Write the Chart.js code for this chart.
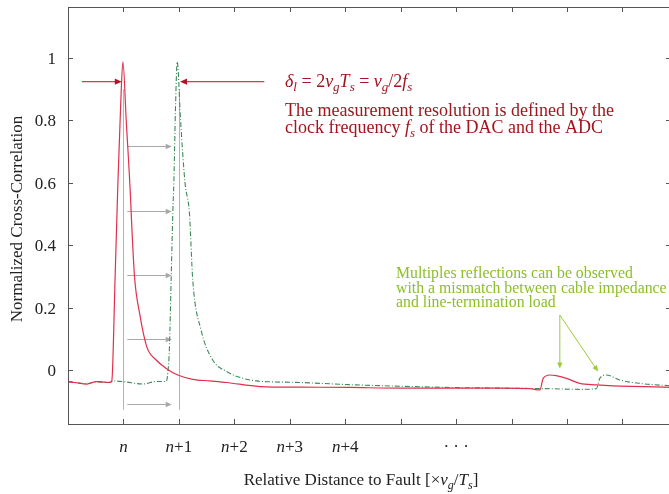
<!DOCTYPE html>
<html>
<head>
<meta charset="utf-8">
<script src="https://cdn.jsdelivr.net/npm/chart.js@4.4.1/dist/chart.umd.min.js"></script>
<style>
  html, body { margin: 0; padding: 0; background: #fff; overflow: hidden; }
  canvas { display: block; }
</style>
</head>
<body>
<canvas id="chart" width="673" height="494"></canvas>
<script>
// x in units of one resolution step (tick 1 = n, tick 2 = n+1 ...)
const redX = [0, 0.12, 0.34, 0.51, 0.66, 0.75, 0.79, 0.85, 0.90, 0.95, 0.99, 1.05, 1.13, 1.14, 1.20, 1.29, 1.42, 1.59, 1.77, 1.98, 2.25, 2.56, 2.86, 3.46, 4.18, 5.08, 5.98, 6.89, 7.79, 8.33, 8.51, 8.57, 8.69, 8.80, 8.99, 9.23, 9.53, 9.83, 10.43, 10.9];
const redY = [-0.038, -0.040, -0.045, -0.037, -0.039, -0.040, -0.035, 0.30, 0.60, 0.85, 0.988, 0.80, 0.545, 0.502, 0.299, 0.183, 0.075, 0.032, 0.005, -0.016, -0.030, -0.035, -0.040, -0.053, -0.055, -0.056, -0.058, -0.058, -0.058, -0.060, -0.064, -0.027, -0.016, -0.018, -0.027, -0.043, -0.048, -0.051, -0.053, -0.056];

const greenX = [0, 0.12, 0.34, 0.51, 0.75, 0.81, 1.02, 1.35, 1.59, 1.77, 1.80, 1.83, 1.86, 1.89, 1.91, 1.94, 1.97, 2.03, 2.11, 2.19, 2.25, 2.40, 2.61, 2.86, 3.16, 3.40, 4.18, 5.08, 5.98, 6.89, 7.79, 8.69, 9.23, 9.53, 9.59, 9.71, 9.95, 10.31, 10.9];
const greenY = [-0.036, -0.040, -0.044, -0.038, -0.040, -0.035, -0.038, -0.045, -0.037, -0.037, -0.010, 0.075, 0.288, 0.502, 0.609, 0.85, 0.988, 0.80, 0.60, 0.502, 0.288, 0.128, 0.032, -0.005, -0.027, -0.035, -0.040, -0.047, -0.052, -0.056, -0.058, -0.060, -0.062, -0.060, -0.027, -0.016, -0.032, -0.043, -0.051];

const yTicks = [0, 0.2, 0.4, 0.6, 0.8, 1];
const yTickLabels = ["0", "0.2", "0.4", "0.6", "0.8", "1"];
const xTicks = [0, 1, 2, 3, 4, 5, 6, 7, 8, 9, 10];
const xTickLabels = { 1: "n", 2: "n+1", 3: "n+2", 4: "n+3", 5: "n+4", 7: "\u00b7 \u00b7 \u00b7" };

// resolution arrows between n and n+1
const shiftArrowY = [0.718, 0.511, 0.305, 0.098, -0.109];

const SERIF = '"Liberation Serif", "DejaVu Serif", serif';
const RED_TEXT = "#a3141e";
const GREEN_TEXT = "#8cbf26";

function font(size, italic) {
  return (italic ? "italic " : "") + size + "px " + SERIF;
}

// parts: [text, kind]  kind r = roman, i = italic, s = italic subscript
function drawRich(ctx, x, y, parts, size, color, align) {
  const sub = Math.round(size * 0.7);
  ctx.save();
  ctx.fillStyle = color;
  ctx.textAlign = "left";
  ctx.textBaseline = "alphabetic";
  const widths = parts.map(([t, k]) => {
    ctx.font = k === "s" ? font(sub, true) : font(size, k === "i");
    return ctx.measureText(t).width;
  });
  const total = widths.reduce((a, b) => a + b, 0);
  let cx = align === "center" ? x - total / 2 : align === "right" ? x - total : x;
  parts.forEach(([t, k], i) => {
    ctx.font = k === "s" ? font(sub, true) : font(size, k === "i");
    ctx.fillText(t, cx, k === "s" ? y + size * 0.22 : y);
    cx += widths[i];
  });
  ctx.restore();
}

function arrow(ctx, x1, y1, x2, y2, color, head) {
  const a = Math.atan2(y2 - y1, x2 - x1);
  ctx.save();
  ctx.strokeStyle = color;
  ctx.fillStyle = color;
  ctx.lineWidth = 1;
  ctx.beginPath();
  ctx.moveTo(x1, y1);
  ctx.lineTo(x2 - Math.cos(a) * head * 0.8, y2 - Math.sin(a) * head * 0.8);
  ctx.stroke();
  ctx.beginPath();
  ctx.moveTo(x2, y2);
  ctx.lineTo(x2 - head * Math.cos(a) + head * 0.45 * Math.sin(a), y2 - head * Math.sin(a) - head * 0.45 * Math.cos(a));
  ctx.lineTo(x2 - head * Math.cos(a) - head * 0.45 * Math.sin(a), y2 - head * Math.sin(a) + head * 0.45 * Math.cos(a));
  ctx.closePath();
  ctx.fill();
  ctx.restore();
}

const annotations = {
  id: "annotations",
  beforeDatasetsDraw(chart) {
    const { ctx, scales: { x, y } } = chart;
    ctx.save();
    ctx.strokeStyle = "#b4b4b4";
    ctx.lineWidth = 1;
    [1, 2].forEach(v => {
      const px = Math.round(x.getPixelForValue(v)) + 0.5;
      ctx.beginPath();
      ctx.moveTo(px, y.getPixelForValue(0.90));
      ctx.lineTo(px, y.getPixelForValue(-0.128));
      ctx.stroke();
    });
    ctx.restore();
    shiftArrowY.forEach(v => {
      const py = Math.round(y.getPixelForValue(v)) + 0.5;
      arrow(ctx, x.getPixelForValue(1.07), py, x.getPixelForValue(1.87), py, "#a8a8a8", 6);
    });
  },
  afterDatasetsDraw(chart) {
    const { ctx, chartArea: ca, scales: { x, y } } = chart;

    // frame with inward ticks
    ctx.save();
    ctx.strokeStyle = "#555";
    ctx.lineWidth = 1;
    ctx.strokeRect(ca.left + 0.5, ca.top + 0.5, ca.right - ca.left, ca.bottom - ca.top);
    ctx.beginPath();
    xTicks.forEach(v => {
      const px = Math.round(x.getPixelForValue(v)) + 0.5;
      ctx.moveTo(px, ca.bottom); ctx.lineTo(px, ca.bottom - 5);
      ctx.moveTo(px, ca.top); ctx.lineTo(px, ca.top + 5);
    });
    yTicks.forEach(v => {
      const py = Math.round(y.getPixelForValue(v)) + 0.5;
      ctx.moveTo(ca.left, py); ctx.lineTo(ca.left + 5, py);
      ctx.moveTo(ca.right, py); ctx.lineTo(ca.right - 5, py);
    });
    ctx.stroke();
    ctx.restore();

    // tick labels
    yTicks.forEach((v, i) => {
      drawRich(ctx, ca.left - 12, y.getPixelForValue(v) + 6, [[yTickLabels[i], "r"]], 17, "#222", "right");
    });
    Object.keys(xTickLabels).forEach(k => {
      const lab = xTickLabels[k];
      const px = x.getPixelForValue(+k);
      const parts = lab.startsWith("n") ? [["n", "i"], [lab.slice(1), "r"]] : [[lab, "r"]];
      drawRich(ctx, px, 452, parts, 17, "#222", "center");
    });

    // axis titles
    drawRich(ctx, 361, 485, [["Relative Distance to Fault [\u00d7", "r"], ["v", "i"], ["g", "s"], ["/", "r"], ["T", "i"], ["s", "s"], ["]", "r"]], 17, "#222", "center");
    ctx.save();
    ctx.translate(22, 219);
    ctx.rotate(-Math.PI / 2);
    ctx.font = font(17, false);
    ctx.fillStyle = "#222";
    ctx.textAlign = "center";
    ctx.textBaseline = "alphabetic";
    ctx.fillText("Normalized Cross-Correlation", 0, 0);
    ctx.restore();

    // resolution markers
    const ay = y.getPixelForValue(0.924);
    arrow(ctx, x.getPixelForValue(0.25), ay, x.getPixelForValue(0.97), ay, "#b0142a", 7);
    arrow(ctx, x.getPixelForValue(3.54), ay, x.getPixelForValue(2.02), ay, "#b0142a", 7);

    drawRich(ctx, 285, 87, [["\u03b4", "i"], ["l", "s"], [" = 2", "r"], ["v", "i"], ["g", "s"], ["T", "i"], ["s", "s"],
      [" = ", "r"], ["v", "i"], ["g", "s"], ["/2", "r"], ["f", "i"], ["s", "s"]], 18, RED_TEXT);
    drawRich(ctx, 285, 116, [["The measurement resolution is defined by the", "r"]], 18, RED_TEXT);
    drawRich(ctx, 285, 133, [["clock frequency ", "r"], ["f", "i"], ["s", "s"], [" of the DAC and the ADC", "r"]], 18, RED_TEXT);

    // reflections note
    drawRich(ctx, 396, 278, [["Multiples reflections can be observed", "r"]], 15.8, GREEN_TEXT);
    drawRich(ctx, 396, 292.5, [["with a mismatch between cable impedance", "r"]], 15.8, GREEN_TEXT);
    drawRich(ctx, 396, 306.5, [["and line-termination load", "r"]], 15.8, GREEN_TEXT);
    const gx = x.getPixelForValue(8.87), gy = y.getPixelForValue(0.176);
    arrow(ctx, gx, gy, x.getPixelForValue(8.87), y.getPixelForValue(0.005), "#9ccc3a", 6);
    arrow(ctx, gx, gy, x.getPixelForValue(9.56), y.getPixelForValue(-0.005), "#9ccc3a", 6);
  }
};

new Chart(document.getElementById("chart"), {
  type: "line",
  data: {
    datasets: [
      {
        data: redX.map((v, i) => ({ x: v, y: redY[i] })),
        borderColor: "#e0304c",
        borderWidth: 1.2,
        pointRadius: 0,
        cubicInterpolationMode: "monotone"
      },
      {
        data: greenX.map((v, i) => ({ x: v, y: greenY[i] })),
        borderColor: "#3d8a5a",
        borderWidth: 1.1,
        borderDash: [5, 2, 1, 2],
        pointRadius: 0,
        cubicInterpolationMode: "monotone"
      }
    ]
  },
  options: {
    responsive: false,
    animation: false,
    layout: { padding: { left: 0, right: 2, top: 7, bottom: 0 } },
    plugins: { legend: { display: false }, tooltip: { enabled: false } },
    scales: {
      x: {
        type: "linear",
        min: 0,
        max: 10.875,
        grid: { display: false },
        border: { display: false },
        ticks: { display: false },
        afterFit: s => { s.height = 70; s.paddingLeft = 0; s.paddingRight = 0; }
      },
      y: {
        min: -0.1731,
        max: 1.1635,
        grid: { display: false },
        border: { display: false },
        ticks: { display: false },
        afterFit: s => { s.width = 68; s.paddingTop = 0; s.paddingBottom = 0; }
      }
    }
  },
  plugins: [annotations]
});
</script>
</body>
</html>
